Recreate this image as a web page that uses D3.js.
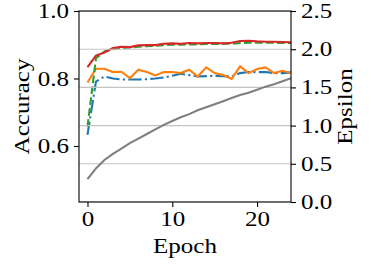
<!DOCTYPE html>
<html>
<head>
<meta charset="utf-8">
<script src="https://cdn.jsdelivr.net/npm/d3@7"></script>
<style>
	body { margin: 0; background: #fff; }
	text { font-family: "Liberation Serif", serif; }
</style>
</head>
<body>
<script>
// data
var epochs = d3.range(0, 25);
var accBlue   = [0.633, 0.791, 0.806, 0.800, 0.797, 0.797, 0.797, 0.798, 0.800, 0.803, 0.808, 0.814, 0.810, 0.806, 0.807, 0.808, 0.807, 0.806, 0.816, 0.819, 0.819, 0.819, 0.816, 0.816, 0.818];
var accOrange = [0.788, 0.829, 0.829, 0.819, 0.820, 0.801, 0.826, 0.819, 0.809, 0.819, 0.819, 0.816, 0.826, 0.806, 0.833, 0.816, 0.810, 0.799, 0.836, 0.816, 0.828, 0.833, 0.816, 0.823, 0.816];
var accGreen  = [0.657, 0.860, 0.880, 0.887, 0.890, 0.892, 0.894, 0.896, 0.897, 0.899, 0.900, 0.900, 0.901, 0.901, 0.902, 0.902, 0.903, 0.903, 0.905, 0.906, 0.906, 0.906, 0.906, 0.905, 0.905];
var accRed    = [0.834, 0.868, 0.877, 0.890, 0.894, 0.893, 0.898, 0.899, 0.899, 0.903, 0.904, 0.903, 0.905, 0.904, 0.905, 0.905, 0.904, 0.906, 0.911, 0.912, 0.910, 0.909, 0.909, 0.908, 0.907];
var epsilon   = [0.30, 0.44, 0.55, 0.63, 0.70, 0.77, 0.83, 0.89, 0.95, 1.01, 1.06, 1.11, 1.15, 1.20, 1.24, 1.28, 1.32, 1.36, 1.40, 1.43, 1.47, 1.51, 1.54, 1.58, 1.62];

var xTicks = [0, 10, 20];
var accTicks = [0.6, 0.8, 1.0];
var epsTicks = [0.0, 0.5, 1.0, 1.5, 2.0, 2.5];

var width = 371, height = 266;
var margin = { top: 11, right: 80, bottom: 64, left: 79 };
var w = width - margin.left - margin.right,
	h = height - margin.top - margin.bottom;

var svg = d3.select("body").append("svg")
	.attr("width", width)
	.attr("height", height);

var g = svg.append("g")
	.attr("transform", "translate(" + margin.left + "," + margin.top + ")");

var x = d3.scaleLinear().domain([-1, 24]).range([0, w]);
var yAcc = d3.scaleLinear().domain([0.434, 1.0]).range([h, 0]);
var yEps = d3.scaleLinear().domain([0, 2.5]).range([h, 0]);

g.append("clipPath").attr("id", "clip")
	.append("rect").attr("width", w).attr("height", h);

var plot = g.append("g").attr("clip-path", "url(#clip)");

function accLine(vals) {
	return d3.line()
		.x(function(d, i) { return x(epochs[i]); })
		.y(function(d) { return yAcc(d); })(vals);
}

var series = [
	{ v: accBlue,   c: "#1f77b4", dash: "13.3,3.3,2.1,3.3" },
	{ v: accOrange, c: "#ff7f0e", dash: null },
	{ v: accGreen,  c: "#2ca02c", dash: "7.7,3.3" },
	{ v: accRed,    c: "#d62728", dash: null }
];

series.forEach(function(s) {
	plot.append("path")
		.attr("d", accLine(s.v))
		.attr("fill", "none")
		.attr("stroke", s.c)
		.attr("stroke-width", 2.1)
		.attr("stroke-dasharray", s.dash);
});

// grid of the epsilon axis (drawn by the twin axes, above the accuracy lines)
plot.selectAll(".grid")
	.data(epsTicks)
	.enter().append("line")
	.attr("x1", 0).attr("x2", w)
	.attr("y1", function(d) { return yEps(d); })
	.attr("y2", function(d) { return yEps(d); })
	.attr("stroke", "#c4c4c4")
	.attr("stroke-width", 1.1);

plot.append("path")
	.attr("d", d3.line()
		.x(function(d, i) { return x(epochs[i]); })
		.y(function(d) { return yEps(d); })(epsilon))
	.attr("fill", "none")
	.attr("stroke", "#7f7f7f")
	.attr("stroke-width", 2.1);

// axes
var fs = 20.5;

var xAxis = g.append("g")
	.attr("transform", "translate(0," + h + ")")
	.call(d3.axisBottom(x).tickValues(xTicks).tickSize(5).tickPadding(4).tickFormat(d3.format("d")));

var yAxisL = g.append("g")
	.call(d3.axisLeft(yAcc).tickValues(accTicks).tickSize(5).tickPadding(5).tickFormat(d3.format(".1f")));

var yAxisR = g.append("g")
	.attr("transform", "translate(" + w + ",0)")
	.call(d3.axisRight(yEps).tickValues(epsTicks).tickSize(5).tickPadding(5).tickFormat(d3.format(".1f")));

[xAxis, yAxisL, yAxisR].forEach(function(a) {
	a.attr("font-family", null);
	a.select(".domain").remove();
	a.selectAll("line").attr("stroke", "#000").attr("stroke-width", 1.1);
	a.selectAll("text").attr("font-size", fs).attr("fill", "#000");
});

// frame
g.append("rect")
	.attr("width", w).attr("height", h)
	.attr("fill", "none")
	.attr("stroke", "#000")
	.attr("stroke-width", 1.1);

// labels
svg.append("text")
	.attr("transform", "translate(" + 29 + "," + (margin.top + h / 2) + ") rotate(-90)")
	.attr("text-anchor", "middle")
	.attr("font-size", fs)
	.text("Accuracy");

svg.append("text")
	.attr("transform", "translate(" + 352 + "," + (margin.top + h / 2) + ") rotate(-90)")
	.attr("text-anchor", "middle")
	.attr("font-size", fs)
	.text("Epsilon");

svg.append("text")
	.attr("x", margin.left + w / 2)
	.attr("y", 253)
	.attr("text-anchor", "middle")
	.attr("font-size", fs)
	.text("Epoch");

// the original serif is wider than Liberation Serif: stretch each text a bit
svg.selectAll("text").each(function() {
	var len = this.getComputedTextLength();
	d3.select(this)
		.attr("textLength", len * 1.22)
		.attr("lengthAdjust", "spacingAndGlyphs");
});
</script>
</body>
</html>
